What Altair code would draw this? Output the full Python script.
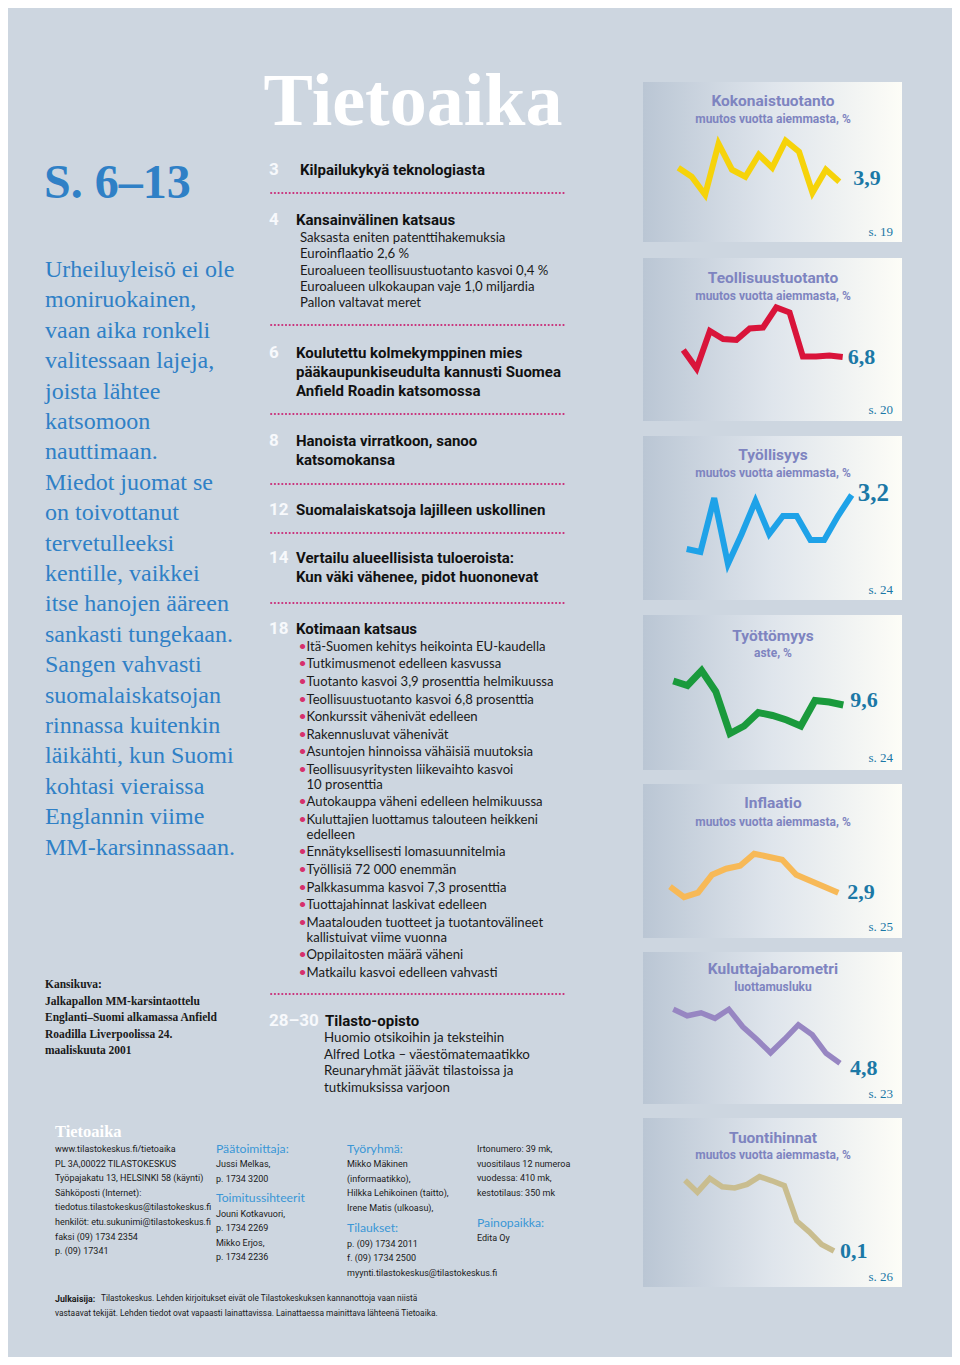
import altair as alt
import pandas as pd

# ------------------------------------------------------------------ data
months = list(range(13))  # 13 monthly observations
kokonaistuotanto = [5.3, 4.4, 2.6, 7.7, 5.1, 4.4, 6.6, 5.3, 8.0, 6.9, 2.8, 5.1, 3.9]
teollisuustuotanto = [8.2, 4.5, 12.0, 10.4, 10.2, 12.5, 12.7, 16.7, 15.7, 6.9, 6.9, 7.1, 6.8]
tyollisyys = [1.4, 1.3, 3.1, 0.9, 1.9, 3.0, 1.9, 2.5, 2.5, 1.7, 1.7, 2.5, 3.2]
tyottomyys = [11.2, 10.9, 11.9, 10.5, 7.7, 8.2, 9.1, 8.9, 8.6, 8.2, 9.9, 9.8, 9.6]
inflaatio = [3.1, 2.75, 2.9, 3.5, 3.7, 3.8, 4.2, 4.1, 4.0, 3.5, 3.3, 3.1, 2.9]
kuluttajabarometri = [15.6, 14.3, 14.9, 13.8, 15.6, 12.1, 9.6, 6.9, 9.6, 12.5, 10.5, 6.8, 4.8]
tuontihinnat = [11.9, 9.9, 12.2, 10.8, 10.6, 11.2, 12.5, 11.8, 11.0, 5.1, 3.3, 1.2, 0.1]

card_series = [kokonaistuotanto, teollisuustuotanto, tyollisyys, tyottomyys,
               inflaatio, kuluttajabarometri, tuontihinnat]
card_titles = ["Kokonaistuotanto", "Teollisuustuotanto", "Työllisyys", "Työttömyys",
               "Inflaatio", "Kuluttajabarometri", "Tuontihinnat"]
card_subtitles = ["muutos vuotta aiemmasta, %", "muutos vuotta aiemmasta, %",
                  "muutos vuotta aiemmasta, %", "aste, %", "muutos vuotta aiemmasta, %",
                  "luottamusluku", "muutos vuotta aiemmasta, %"]
card_pages = ["s. 19", "s. 20", "s. 24", "s. 24", "s. 25", "s. 23", "s. 26"]

masthead = "Tietoaika"
page_range = "S. 6–13"
left_column = ["Urheiluyleisö ei ole", "moniruokainen,", "vaan aika ronkeli",
               "valitessaan lajeja,", "joista lähtee", "katsomoon", "nauttimaan.",
               "Miedot juomat se", "on  toivottanut", "tervetulleeksi",
               "kentille, vaikkei", "itse hanojen ääreen", "sankasti tungekaan.",
               "Sangen vahvasti", "suomalaiskatsojan", "rinnassa kuitenkin",
               "läikähti, kun Suomi", "kohtasi vieraissa", "Englannin viime",
               "MM-karsinnassaan."]
cover_caption = ["Kansikuva:", "Jalkapallon MM-karsintaottelu",
                 "Englanti–Suomi alkamassa Anfield", "Roadilla Liverpoolissa 24.",
                 "maaliskuuta 2001"]

toc_numbers = ["3", "4", "6", "8", "12", "14", "18", "28–30"]
toc_headings = [["Kilpailukykyä teknologiasta"],
                ["Kansainvälinen katsaus"],
                ["Koulutettu kolmekymppinen mies", "pääkaupunkiseudulta kannusti Suomea",
                 "Anfield Roadin katsomossa"],
                ["Hanoista virratkoon, sanoo", "katsomokansa"],
                ["Suomalaiskatsoja lajilleen uskollinen"],
                ["Vertailu alueellisista tuloeroista:", "Kun väki vähenee, pidot huononevat"],
                ["Kotimaan katsaus"],
                ["Tilasto-opisto"]]
kansainvalinen = ["Saksasta eniten patenttihakemuksia", "Euroinflaatio 2,6 %",
                  "Euroalueen teollisuustuotanto kasvoi 0,4 %",
                  "Euroalueen ulkokaupan vaje 1,0 miljardia", "Pallon valtavat meret"]
kotimaan = [["Itä-Suomen kehitys heikointa EU-kaudella"],
            ["Tutkimusmenot edelleen kasvussa"],
            ["Tuotanto kasvoi 3,9 prosenttia helmikuussa"],
            ["Teollisuustuotanto kasvoi 6,8 prosenttia"],
            ["Konkurssit vähenivät edelleen"],
            ["Rakennusluvat vähenivät"],
            ["Asuntojen hinnoissa vähäisiä muutoksia"],
            ["Teollisuusyritysten liikevaihto kasvoi", "10 prosenttia"],
            ["Autokauppa väheni edelleen helmikuussa"],
            ["Kuluttajien luottamus talouteen heikkeni", "edelleen"],
            ["Ennätyksellisesti lomasuunnitelmia"],
            ["Työllisiä 72 000 enemmän"],
            ["Palkkasumma kasvoi 7,3 prosenttia"],
            ["Tuottajahinnat laskivat edelleen"],
            ["Maatalouden tuotteet ja tuotantovälineet", "kallistuivat viime vuonna"],
            ["Oppilaitosten määrä väheni"],
            ["Matkailu kasvoi edelleen vahvasti"]]
tilasto_opisto = ["Huomio otsikoihin ja teksteihin", "Alfred Lotka – väestömatemaatikko",
                  "Reunaryhmät jäävät tilastoissa ja", "tutkimuksissa varjoon"]

footer_col1 = ["www.tilastokeskus.fi/tietoaika", "PL 3A,00022 TILASTOKESKUS",
               "Työpajakatu 13, HELSINKI 58 (käynti)", "Sähköposti (Internet):",
               "tiedotus.tilastokeskus@tilastokeskus.fi",
               "henkilöt: etu.sukunimi@tilastokeskus.fi", "faksi (09) 1734 2354",
               "p. (09) 17341"]
footer_col2a = ["Jussi Melkas,", "p. 1734 3200"]
footer_col2b = ["Jouni Kotkavuori,", "p. 1734 2269", "Mikko Erjos,", "p. 1734 2236"]
footer_col3a = ["Mikko Mäkinen", "(informaatikko),", "Hilkka Lehikoinen (taitto),",
                "Irene Matis (ulkoasu),"]
footer_col3b = ["p. (09) 1734 2011", "f. (09) 1734 2500",
                "myynti.tilastokeskus@tilastokeskus.fi"]
footer_col4a = ["Irtonumero: 39 mk,", "vuositilaus 12 numeroa", "vuodessa: 410 mk,",
                "kestotilaus: 350 mk"]
footer_col4b = ["Edita Oy"]
footer_heads = ["Päätoimittaja:", "Toimitussihteerit", "Työryhmä:", "Tilaukset:", "Painopaikka:"]
publisher_label = "Julkaisija:"
publisher_text = ["Tilastokeskus. Lehden kirjoitukset eivät ole Tilastokeskuksen kannanottoja vaan niistä"]
publisher_text2 = [" vastaavat tekijät. Lehden tiedot ovat vapaasti lainattavissa. Lainattaessa mainittava lähteenä Tietoaika."]

# ------------------------------------------------------------------ style / layout
OFF = 8
W, H = 944, 1349
BG = "#cdd6e0"
SERIF = "'Liberation Serif', 'Times New Roman', serif"
COND = "Roboto, 'Liberation Sans', sans-serif"
BOOK = "Lato, 'Liberation Sans', sans-serif"
BLUE_SERIF = "#2f80c6"
VALUE_BLUE = "#1b78a6"
TITLE_LAV = "#7e84c0"
FOOT_BLUE = "#3a96d6"
DOT_PINK = "#c9337c"
INK = "#1a1a1a"

GRAD = alt.LinearGradient(
    gradient="linear",
    stops=[alt.GradientStop(color="#bac6d4", offset=0),
           alt.GradientStop(color="#dfe5ec", offset=0.5),
           alt.GradientStop(color="#fdfdf7", offset=1)],
    x1=0, x2=1, y1=0, y2=0)

CARD_X0, CARD_X1 = 643, 902
CARDS = [
    dict(top=82, bottom=242, ty=101, sy=119, xa=678.3, xb=839.3, ylast=181.7, ppu=10, dx=14, dy=-4, ls=22, py=232, color="#f6d30a", sw=6),
    dict(top=258, bottom=421, ty=278, sy=296, xa=683.3, xb=842.7, ylast=357, ppu=5, dx=5, dy=0, ls=22, py=410, color="#d9143a", sw=6),
    dict(top=436, bottom=600, ty=455, sy=473, xa=686.7, xb=851.7, ylast=495, ppu=30, dx=6, dy=-2, ls=25, py=590, color="#1ea2e8", sw=6),
    dict(top=615, bottom=770, ty=636, sy=653, xa=673.3, xb=843.3, ylast=705, ppu=15, dx=7, dy=-5, ls=22, py=758, color="#1a9a3c", sw=7),
    dict(top=784, bottom=938, ty=803, sy=822, xa=670, xb=838.3, ylast=892.7, ppu=30, dx=9, dy=-1, ls=22, py=927, color="#f7b957", sw=6),
    dict(top=952, bottom=1104, ty=969, sy=987, xa=673.3, xb=840, ylast=1063.3, ppu=5, dx=10, dy=5, ls=22, py=1094, color="#9786c2", sw=5.5),
    dict(top=1118, bottom=1287, ty=1138, sy=1155, xa=685, xb=834, ylast=1251, ppu=6, dx=6, dy=0, ls=22, py=1277, color="#c9bd8f", sw=5.5),
]

one = pd.DataFrame({"k": [0]})


def text_block(lines, x, y0, lh=16.0, size=12.0, font=BOOK, color=INK,
               weight="normal", align="left"):
    n = len(lines)
    df = pd.DataFrame({"txt": lines, "i": list(range(n))})
    span = max(n - 1, 1)
    return alt.Chart(df).mark_text(
        align=align, baseline="middle", font=font, fontSize=size,
        fontWeight=weight, color=color
    ).encode(
        x=alt.value(x - OFF),
        y=alt.Y("i:Q", axis=None,
                scale=alt.Scale(domain=[0, span],
                                range=[y0 - OFF, y0 - OFF + span * lh],
                                nice=False, zero=False)),
        text="txt:N",
    )


def card(k):
    c = CARDS[k]
    series = card_series[k]
    df = pd.DataFrame({"month": months, "value": series})
    vlast = series[-1]
    lo, hi = min(series), max(series)
    xs = alt.Scale(domain=[months[0], months[-1]],
                   range=[c["xa"] - OFF, c["xb"] - OFF], nice=False, zero=False)
    ys = alt.Scale(domain=[lo, hi],
                   range=[c["ylast"] - (lo - vlast) * c["ppu"] - OFF,
                          c["ylast"] - (hi - vlast) * c["ppu"] - OFF],
                   nice=False, zero=False)
    ex = alt.X("month:Q", scale=xs, axis=None)
    ey = alt.Y("value:Q", scale=ys, axis=None)
    bg = alt.Chart(one).mark_rect(color=GRAD).encode(
        x=alt.value(CARD_X0 - OFF), x2=alt.value(CARD_X1 - OFF),
        y=alt.value(c["top"] - OFF), y2=alt.value(c["bottom"] - OFF))
    line = alt.Chart(df).mark_line(
        color=c["color"], strokeWidth=c["sw"], strokeJoin="miter", strokeCap="butt"
    ).encode(x=ex, y=ey)
    lab = alt.Chart(df).transform_filter(
        alt.datum.month == months[-1]
    ).transform_calculate(
        lab="replace(format(datum.value, '.1f'), '.', ',')"
    ).mark_text(
        align="left", baseline="middle", dx=c["dx"], dy=c["dy"], font=SERIF,
        fontSize=c["ls"], fontWeight="bold", color=VALUE_BLUE
    ).encode(x=ex, y=ey, text="lab:N")
    ttl = text_block([card_titles[k]], 773, c["ty"], size=15.5, font=COND,
                     weight="bold", color=TITLE_LAV, align="center")
    sub = text_block([card_subtitles[k]], 773, c["sy"], size=12, font=COND,
                     weight="bold", color=TITLE_LAV, align="center")
    pg = text_block([card_pages[k]], 893, c["py"], size=13, font=SERIF,
                    color=VALUE_BLUE, align="right")
    return [bg, line, lab, ttl, sub, pg]


layers = []

# cards on the right
for k in range(len(card_series)):
    layers += card(k)

# masthead & left column
layers.append(text_block([masthead], 413, 103, size=74, font=SERIF, weight="bold",
                         color="#ffffff", align="center"))
layers.append(text_block([page_range], 44, 184, size=48, font=SERIF, weight="bold",
                         color=BLUE_SERIF))
layers.append(text_block(left_column, 45, 270, lh=30.4, size=24, font=SERIF,
                         color=BLUE_SERIF))
layers.append(text_block(cover_caption, 45, 985, lh=16.5, size=11.5, font=SERIF,
                         weight="bold", color=INK))

# table of contents
head_y = [170, 220, 352.7, 441, 510, 558.3, 629.3, 1020.7]
head_x = [300, 296, 296, 296, 296, 296, 296, 325]
for num, lines, hx, hy in zip(toc_numbers, toc_headings, head_x, head_y):
    layers.append(text_block([num], 269, hy, size=17, font=COND, weight="bold",
                             color="#f7f9fc"))
    layers.append(text_block(lines, hx, hy, lh=19, size=15, font=COND,
                             weight="bold", color="#111111"))

for dy_ in [193, 325, 414, 484, 533, 603, 994]:
    layers.append(alt.Chart(one).mark_rule(
        color=DOT_PINK, strokeWidth=1.8, strokeDash=[0.4, 3.3], strokeCap="round"
    ).encode(x=alt.value(271 - OFF), x2=alt.value(567 - OFF), y=alt.value(dy_ - OFF)))

layers.append(text_block(kansainvalinen, 300, 238.3, lh=16.1, size=13.2))

y = 646.7
for item in kotimaan:
    layers.append(text_block(["•"], 298.5, y, size=14, font=BOOK, color="#d6306c"))
    layers.append(text_block(item, 306.5, y, lh=14.8, size=13.1))
    y += 17.6 + (len(item) - 1) * 14.8

layers.append(text_block(tilasto_opisto, 324, 1038.3, lh=16.4, size=13.3))

# footer
layers.append(text_block([masthead], 55, 1131.5, size=16.5, font=SERIF, weight="bold",
                         color="#ffffff"))
FL = 14.6
FS = 9
layers.append(text_block(footer_col1, 55, 1149, lh=FL, size=FS, font=COND, color=INK))
layers.append(text_block([footer_heads[0]], 216, 1149, size=12.2, color=FOOT_BLUE))
layers.append(text_block(footer_col2a, 216, 1164, lh=FL, size=FS, font=COND, color=INK))
layers.append(text_block([footer_heads[1]], 216, 1198, size=12.2, color=FOOT_BLUE))
layers.append(text_block(footer_col2b, 216, 1213.5, lh=FL, size=FS, font=COND, color=INK))
layers.append(text_block([footer_heads[2]], 347, 1149, size=12.2, color=FOOT_BLUE))
layers.append(text_block(footer_col3a, 347, 1164, lh=FL, size=FS, font=COND, color=INK))
layers.append(text_block([footer_heads[3]], 347, 1228, size=12.2, color=FOOT_BLUE))
layers.append(text_block(footer_col3b, 347, 1243.5, lh=FL, size=FS, font=COND, color=INK))
layers.append(text_block(footer_col4a, 477, 1149, lh=FL, size=FS, font=COND, color=INK))
layers.append(text_block([footer_heads[4]], 477, 1223, size=12.2, color=FOOT_BLUE))
layers.append(text_block(footer_col4b, 477, 1238, lh=FL, size=FS, font=COND, color=INK))
layers.append(text_block([publisher_label], 55, 1299, size=8.8, font=COND,
                         weight="bold", color=INK))
layers.append(text_block(publisher_text, 101, 1299, size=8.3, font=COND, color=INK))
layers.append(text_block(publisher_text2, 55, 1313, size=8.4, font=COND, color=INK))

chart = alt.layer(*layers).resolve_scale(
    x="independent", y="independent"
).properties(
    width=W, height=H, padding=0, background=BG,
    autosize=alt.AutoSizeParams(type="none"),
).configure_view(stroke=None)

chart.save("out.html", embed_options={"renderer": "svg", "actions": False})
